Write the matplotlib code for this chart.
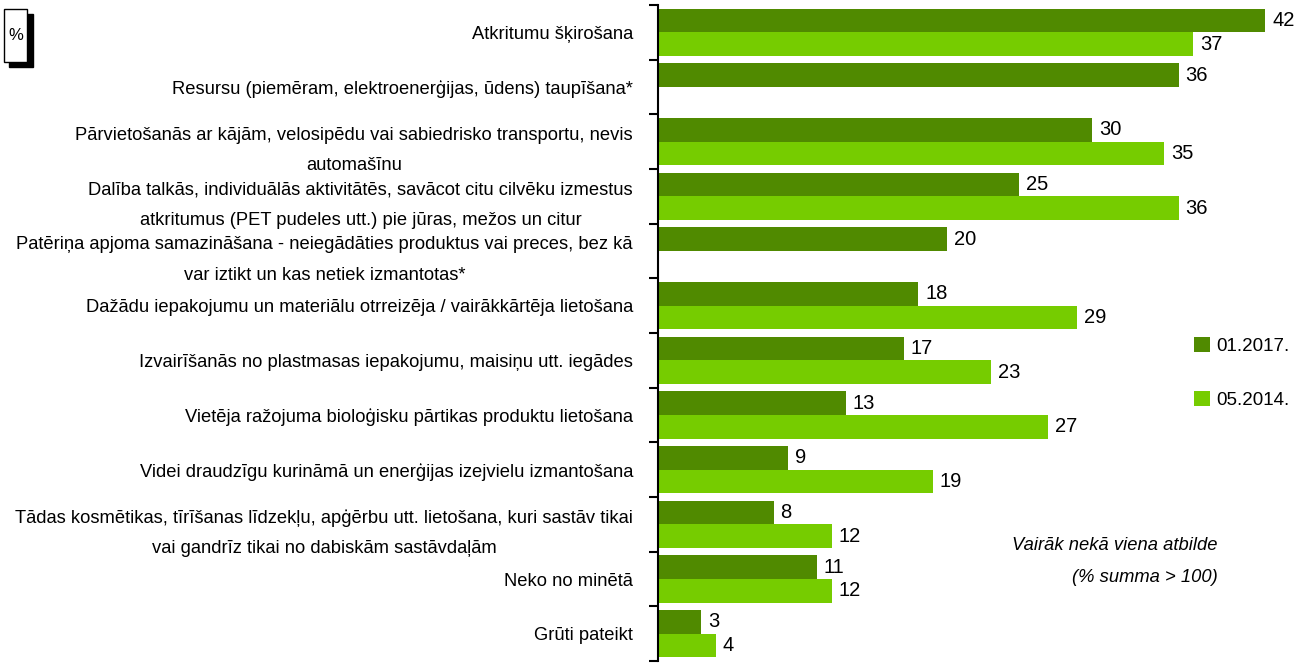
import numpy as np
import matplotlib
matplotlib.use("Agg")
import matplotlib.pyplot as plt
from matplotlib.patches import Rectangle

plt.rcParams['font.family'] = ['Liberation Sans', 'DejaVu Sans']

categories = [
    "Atkritumu šķirošana",
    "Resursu (piemēram, elektroenerģijas, ūdens) taupīšana*",
    "Pārvietošanās ar kājām, velosipēdu vai sabiedrisko transportu, nevis\nautomašīnu",
    "Dalība talkās, individuālās aktivitātēs, savācot citu cilvēku izmestus\natkritumus (PET pudeles utt.) pie jūras, mežos un citur",
    "Patēriņa apjoma samazināšana - neiegādāties produktus vai preces, bez kā\nvar iztikt un kas netiek izmantotas*",
    "Dažādu iepakojumu un materiālu otrreizēja / vairākkārtēja lietošana",
    "Izvairīšanās no plastmasas iepakojumu, maisiņu utt. iegādes",
    "Vietēja ražojuma bioloģisku pārtikas produktu lietošana",
    "Videi draudzīgu kurināmā un enerģijas izejvielu izmantošana",
    "Tādas kosmētikas, tīrīšanas līdzekļu, apģērbu utt. lietošana, kuri sastāv tikai\nvai gandrīz tikai no dabiskām sastāvdaļām",
    "Neko no minētā",
    "Grūti pateikt",
]
vals_2017 = [42, 36, 30, 25, 20, 18, 17, 13, 9, 8, 11, 3]
vals_2014 = [37, None, 35, 36, None, 29, 23, 27, 19, 12, 12, 4]
series_names = ["01.2017.", "05.2014."]

dark = "#508A00"
light = "#76CC00"

fig = plt.figure(figsize=(13, 6.64), dpi=100)
ax = fig.add_axes([658 / 1300, 1 - 661 / 664, 1 - 658 / 1300, 656 / 664])

y = np.arange(len(categories))
h = 0.43
b1 = ax.barh(y - 0.215, vals_2017, height=h, color=dark, label=series_names[0])
y2 = [yy for yy, v in zip(y, vals_2014) if v is not None]
v2 = [v for v in vals_2014 if v is not None]
b2 = ax.barh(np.array(y2) + 0.215, v2, height=h, color=light, label=series_names[1])

ax.bar_label(b1, padding=5, fontsize=14.5)
ax.bar_label(b2, padding=5, fontsize=14.5)

ax.set_xlim(0, 44.4)
ax.set_ylim(11.5, -0.5)
ax.set_xticks([])
ax.set_yticks(np.arange(-0.5, 12, 1))
ax.set_yticklabels([])
ax.set_yticks(y, minor=True)
ax.set_yticklabels(categories, minor=True, fontsize=13.2, multialignment='center',
                   linespacing=2.05)
ax.tick_params(axis='y', which='major', length=6.5, width=1.5, direction='out')
ax.tick_params(axis='y', which='minor', length=0, pad=18)
for s in ['top', 'right', 'bottom']:
    ax.spines[s].set_visible(False)
ax.spines['left'].set_linewidth(1.5)

fig.legend(handles=[b1, b2], loc='center left', bbox_to_anchor=(1194 / 1300, 1 - 373 / 664),
           frameon=False, fontsize=13.5, handlelength=0.85, handleheight=0.85,
           handletextpad=0.35, labelspacing=1.9, borderpad=0, borderaxespad=0)

fig.text(1218 / 1300, 1 - 545 / 664, "Vairāk nekā viena atbilde", ha='right', va='center',
         fontsize=13.2, style='italic')
fig.text(1218 / 1300, 1 - 578 / 664, "(% summa > 100)", ha='right', va='center',
         fontsize=13.2, style='italic')

# "%" box with shadow
fig.patches.append(Rectangle((9 / 1300, 1 - 67 / 664), 24 / 1300, 53 / 664,
                             transform=fig.transFigure, facecolor='black', edgecolor='black'))
fig.patches.append(Rectangle((4 / 1300, 1 - 62 / 664), 23 / 1300, 53 / 664,
                             transform=fig.transFigure, facecolor='white', edgecolor='black', linewidth=1))
fig.text(15.5 / 1300, 1 - 35 / 664, "%", ha='center', va='center', fontsize=12)

fig.savefig("out.png", dpi=100)
